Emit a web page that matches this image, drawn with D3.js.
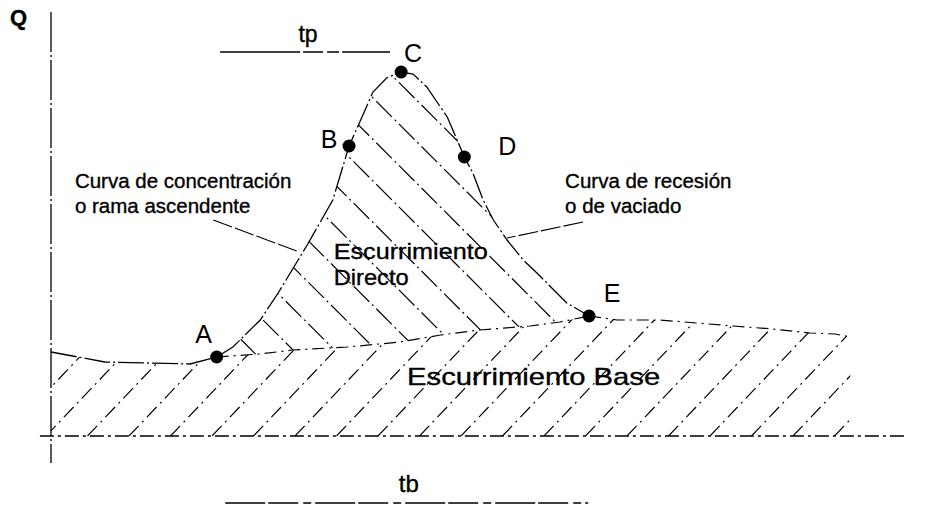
<!DOCTYPE html>
<html>
<head>
<meta charset="utf-8">
<script src="https://cdn.jsdelivr.net/npm/d3@7"></script>
<style>
  body { margin: 0; background: #fff; }
  svg text { font-family: "Liberation Sans", Arial, Helvetica, sans-serif; fill: #000; }
</style>
</head>
<body>
<div id="chart"></div>
<script>
// hidrograma: t (tiempo) y Q (gasto), unidades relativas
var hydroT = [0, 6.3, 16.3, 19.4, 21.3, 24.5, 26.6, 30.0, 33.0, 34.9, 35.9, 37.7, 39.3, 41.0, 42.4, 44.0, 46.4, 48.4, 49.4, 50.6, 51.8, 53.4, 55.3, 56.9, 60.4, 63.0];
var hydroQ = [21, 18.5, 18, 19.75, 22.25, 29, 35.75, 47.75, 59, 72.5, 77.25, 86, 89.5, 91, 90.5, 87.25, 79.75, 69.75, 65.75, 59, 54, 49, 44, 40.75, 33.25, 30];
// gasto base despues de E
var tailT = [63.0, 66.3, 71.3, 75.6, 79.9, 84.5, 88.9, 91.8, 93.6];
var tailQ = [30, 29, 29, 28.25, 27.5, 26.75, 25.75, 25.5, 24.75];
// linea de separacion A -> E
var sepT = [19.4, 24.5, 28.3, 34.7, 40.9, 45.6, 50.2, 56.1, 59.6, 63.0];
var sepQ = [19.75, 20.5, 21.5, 22.25, 23.5, 25.25, 26.5, 27.5, 28.5, 30];
// puntos caracteristicos
var pointNames = ["A", "B", "C", "D", "E"];
var pointT = [19.4, 34.9, 41.0, 48.4, 63.0];
var pointQ = [19.75, 72.5, 91, 69.75, 30];
var tpRange = [19.8, 39.7], tpQ = 96;
var tbRange = [20.4, 62.9], tbQ = -16.75;

var width = 935, height = 506;
var svg = d3.select('#chart').append('svg').attr('width', width).attr('height', height);
var x = d3.scaleLinear().domain([0, 100]).range([51, 905]);
var y = d3.scaleLinear().domain([0, 100]).range([436, 36]);

var line = d3.line().x(function(d) { return x(d[0]); }).y(function(d) { return y(d[1]); });
var hydro = hydroT.map(function(t, i) { return [t, hydroQ[i]]; });
var tail = tailT.map(function(t, i) { return [t, tailQ[i]]; });
var sep = sepT.map(function(t, i) { return [t, sepQ[i]]; });

// regiones para el rayado
var iA = 3;
var directPoly = hydro.slice(iA).concat(sep.slice().reverse());
var basePoly = hydro.slice(0, iA + 1).concat(sep.slice(1)).concat(tail.slice(1))
  .concat([[tailT[tailT.length - 1], 0], [0, 0]]);

var defs = svg.append('defs');
defs.append('clipPath').attr('id', 'clipDirect').append('path').attr('d', line(directPoly) + 'Z');
defs.append('clipPath').attr('id', 'clipBase').append('path').attr('d', line(basePoly) + 'Z');

// rayado escurrimiento directo (\)
var gd = svg.append('g').attr('clip-path', 'url(#clipDirect)');
for (var k = -12; k <= 12; k++) {
  var c = 57 + 41.5 * k;
  gd.append('line').attr('x1', 150).attr('y1', 150 + c).attr('x2', 700).attr('y2', 700 + c)
    .attr('stroke', '#000').attr('stroke-width', 1.2).attr('stroke-dasharray', '22 4 2 4');
}
// rayado escurrimiento base (/)
var gb = svg.append('g').attr('clip-path', 'url(#clipBase)');
for (var k = -2; k <= 22; k++) {
  var x0 = 793 - 41.5 * k;
  gb.append('line').attr('x1', x0).attr('y1', 436).attr('x2', x0 + 160 / 1.05).attr('y2', 436 - 160)
    .attr('stroke', '#000').attr('stroke-width', 1.2).attr('stroke-dasharray', '14 5 2 5');
}

// ejes
svg.append('line').attr('x1', x(0)).attr('x2', x(0)).attr('y1', y(106)).attr('y2', y(-6.75))
  .attr('stroke', '#000').attr('stroke-width', 1.3).attr('stroke-dasharray', '40 3 2 3');
svg.append('line').attr('x1', x(-1.3)).attr('x2', x(100)).attr('y1', y(0)).attr('y2', y(0))
  .attr('stroke', '#000').attr('stroke-width', 1.3).attr('stroke-dasharray', '14 4 3 4');

// curvas
svg.append('path').attr('d', line(hydro)).attr('fill', 'none')
  .attr('stroke', '#000').attr('stroke-width', 1.3).attr('stroke-dasharray', '26 3 2 3');
svg.append('path').attr('d', line(tail)).attr('fill', 'none')
  .attr('stroke', '#000').attr('stroke-width', 1.2).attr('stroke-dasharray', '12 5 2 5');
svg.append('path').attr('d', line(sep)).attr('fill', 'none')
  .attr('stroke', '#000').attr('stroke-width', 1.2).attr('stroke-dasharray', '12 5 2 5');

// tp y tb
svg.append('line').attr('x1', x(tpRange[0])).attr('x2', x(tpRange[1])).attr('y1', y(tpQ)).attr('y2', y(tpQ))
  .attr('stroke', '#000').attr('stroke-width', 1.3).attr('stroke-dasharray', '80 3 20 4 12 3');
svg.append('line').attr('x1', x(tbRange[0])).attr('x2', x(tbRange[1])).attr('y1', y(tbQ)).attr('y2', y(tbQ))
  .attr('stroke', '#000').attr('stroke-width', 1.3).attr('stroke-dasharray', '40 3 30 5 8 4');

// lineas guia
svg.append('line').attr('x1', x(19.0)).attr('y1', y(54)).attr('x2', x(28.8)).attr('y2', y(46.25))
  .attr('stroke', '#000').attr('stroke-width', 1.1).attr('stroke-dasharray', '20 3');
svg.append('line').attr('x1', x(62.3)).attr('y1', y(53.5)).attr('x2', x(53.4)).attr('y2', y(49.5))
  .attr('stroke', '#000').attr('stroke-width', 1.1).attr('stroke-dasharray', '20 3');

// puntos
var offs = [[-13, -14], [-20, 2], [12, -10], [43, -2], [23, -14]];
pointNames.forEach(function(n, i) {
  svg.append('circle').attr('cx', x(pointT[i])).attr('cy', y(pointQ[i])).attr('r', 6.5).attr('fill', '#000');
  svg.append('text').attr('x', x(pointT[i]) + offs[i][0]).attr('y', y(pointQ[i]) + offs[i][1])
    .attr('text-anchor', 'middle').attr('font-size', 25).text(n);
});

// textos
function label(t, q, s, size, opts) {
  var el = svg.append('text').attr('x', x(t)).attr('y', y(q)).attr('font-size', size).text(s)
    .attr('stroke', '#000').attr('stroke-width', 0.35);
  if (opts && opts.anchor) el.attr('text-anchor', opts.anchor);
  if (opts && opts.bold) el.attr('font-weight', 'bold');
  if (opts && opts.len) el.attr('textLength', opts.len).attr('lengthAdjust', 'spacingAndGlyphs');
  return el;
}
label(-4.8, 102.75, 'Q', 22, {bold: true});
label(30.1, 98.5, 'tp', 23, {anchor: 'middle'});
label(41.9, -14, 'tb', 24, {anchor: 'middle'});
label(2.8, 62, 'Curva de concentración', 20.5);
label(2.8, 55.75, 'o rama ascendente', 20.5);
label(60.2, 62, 'Curva de recesión', 20.5);
label(60.2, 55.75, 'o de vaciado', 20.5);
label(33.1, 44.25, 'Escurrimiento', 22, {len: 154});
label(33.1, 37.75, 'Directo', 22, {len: 75});
label(41.7, 12.75, 'Escurrimiento Base', 24, {len: 253});
</script>
</body>
</html>
